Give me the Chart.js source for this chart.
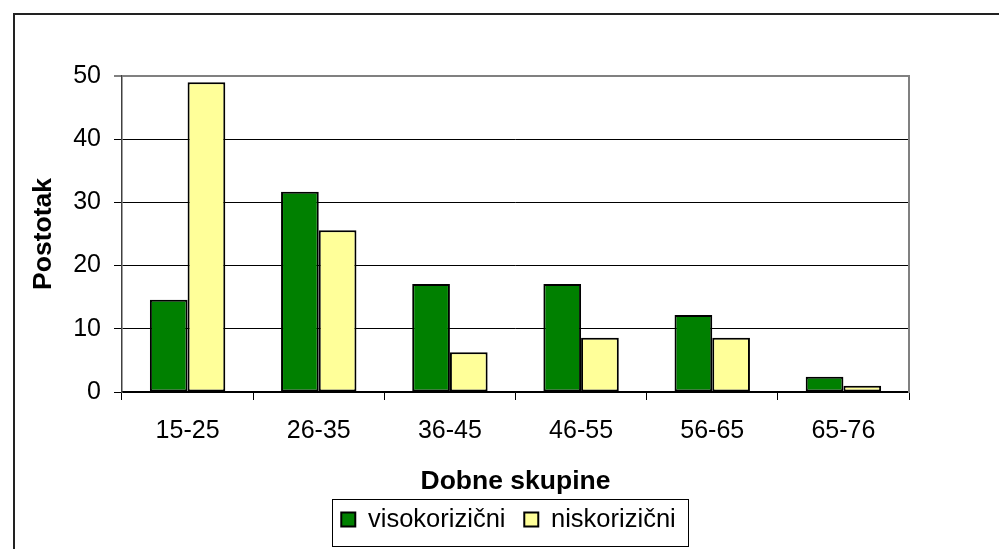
<!DOCTYPE html>
<html>
<head>
<meta charset="utf-8">
<script src="https://cdn.jsdelivr.net/npm/chart.js@4/dist/chart.umd.min.js"></script>
<style>
  html, body { margin: 0; padding: 0; background: #fff; }
  #wrap { position: relative; width: 999px; height: 549px; }
  canvas { display: block; }
</style>
</head>
<body>
<div id="wrap"><canvas id="c" width="999" height="549"></canvas></div>
<script>
const categories = ['15-25', '26-35', '36-45', '46-55', '56-65', '65-76'];
const seriesNames = ['visokorizični', 'niskorizični'];
const visokorizicni = [14.6, 31.7, 17.1, 17.1, 12.2, 2.4];
const niskorizicni = [49.0, 25.6, 6.3, 8.6, 8.6, 1.0];
const yTickValues = [0, 10, 20, 30, 40, 50];
const xTitle = 'Dobne skupine';
const yTitle = 'Postotak';

const FONT = "'Liberation Sans', Arial, sans-serif";
const LEGEND_FONT = 25.5;
const LEGEND_PAD = 18.8;

const framePlugin = {
  id: 'frame',
  beforeDraw(chart) {
    const ctx = chart.ctx;
    ctx.save();
    ctx.fillStyle = '#fff';
    ctx.fillRect(0, 0, chart.width, chart.height);
    ctx.strokeStyle = '#222';
    ctx.lineWidth = 2;
    ctx.beginPath();
    ctx.moveTo(14, chart.height);
    ctx.lineTo(14, 14);
    ctx.lineTo(chart.width, 14);
    ctx.stroke();
    ctx.restore();
  },
  afterDraw(chart) {
    const lg = chart.legend;
    if (!lg || !lg.legendHitBoxes || !lg.legendHitBoxes.length) return;
    const hb = lg.legendHitBoxes;
    const first = hb[0], last = hb[hb.length - 1];
    const textY = lg.top + LEGEND_PAD + LEGEND_FONT / 2;
    const ctx = chart.ctx;
    ctx.save();
    ctx.strokeStyle = '#000';
    ctx.lineWidth = 1;
    const l = Math.round(first.left - 9) + 0.5;
    const r = Math.round(last.left + last.width + 12) + 0.5;
    const t = Math.round(textY - 21) + 0.5;
    const b = Math.round(textY + 26) + 0.5;
    ctx.strokeRect(l, t, r - l, b - t);
    ctx.restore();
  }
};

new Chart(document.getElementById('c'), {
  type: 'bar',
  data: {
    labels: categories,
    datasets: [
      { label: seriesNames[0], data: visokorizicni, backgroundColor: '#008000', borderColor: '#000', borderWidth: 2, borderSkipped: false },
      { label: seriesNames[1], data: niskorizicni, backgroundColor: '#FFFF99', borderColor: '#000', borderWidth: 2, borderSkipped: false }
    ]
  },
  options: {
    responsive: false,
    animation: false,
    devicePixelRatio: 1,
    layout: { padding: { left: 18, right: 0, top: 76, bottom: 6.7 } },
    datasets: { bar: { categoryPercentage: 0.575, barPercentage: 1.0 } },
    plugins: {
      tooltip: { enabled: false },
      legend: {
        position: 'bottom',
        labels: {
          font: { family: FONT, size: LEGEND_FONT },
          color: '#000',
          boxWidth: 14,
          boxHeight: 14,
          padding: LEGEND_PAD
        }
      }
    },
    scales: {
      x: {
        offset: true,
        grid: { display: true, drawOnChartArea: false, drawTicks: true, tickLength: 8, color: '#000', offset: true },
        border: { display: true, color: '#000', width: 1.5 },
        ticks: { font: { family: FONT, size: 25 }, color: '#000', padding: 16, maxRotation: 0 },
        title: { display: true, text: xTitle, font: { family: FONT, size: 26.5, weight: 'bold' }, color: '#000', padding: { top: 0, bottom: -9.7 } },
        afterFit(scale) { scale.height = 96; }
      },
      y: {
        min: 0, max: 50,
        afterBuildTicks(scale) { scale.ticks = yTickValues.map(v => ({ value: v })); },
        grid: {
          color: ctx => (ctx.tick && ctx.tick.value === 50) ? '#808080' : '#000',
          lineWidth: ctx => (ctx.tick && ctx.tick.value === 50) ? 2 : 1,
          tickLength: 8, drawTicks: true
        },
        border: { display: true, color: '#404040', width: 1.5 },
        ticks: { font: { family: FONT, size: 25 }, color: '#000', padding: 13 },
        title: { display: true, text: yTitle, font: { family: FONT, size: 26.5, weight: 'bold' }, color: '#000', padding: { top: 10, bottom: 0 } },
        afterFit(scale) { scale.width = 104; }
      },
      y2: {
        position: 'right',
        display: true,
        min: 0, max: 50,
        grid: { drawOnChartArea: false, drawTicks: false },
        border: { display: true, color: '#808080', width: 2 },
        ticks: { display: false },
        afterFit(scale) { scale.width = 90; }
      }
    }
  },
  plugins: [framePlugin]
});
</script>
</body>
</html>
